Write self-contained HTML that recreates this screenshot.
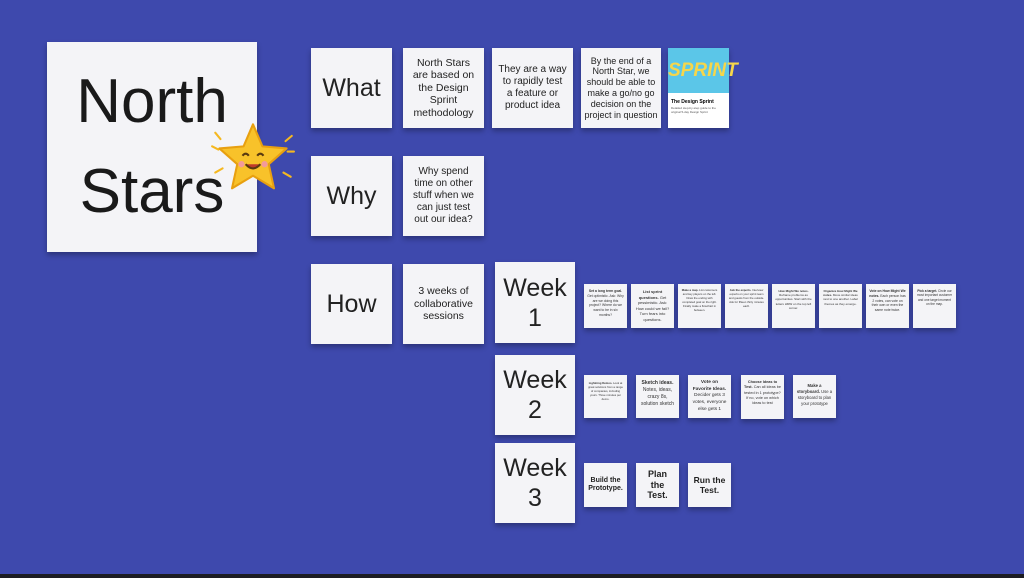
<!DOCTYPE html>
<html><head><meta charset="utf-8"><style>
*{margin:0;padding:0;box-sizing:border-box}
body{width:1024px;height:578px;background:#3e49ad;position:relative;overflow:hidden;font-family:"Liberation Sans",sans-serif}
.n{position:absolute;background:#f4f4f7;box-shadow:0 3px 5px rgba(0,0,0,.3);display:flex;align-items:center;justify-content:center;text-align:center;color:#222;line-height:1.2}
.s{display:block;font-size:3.4px;line-height:1.4;padding:5px 3px;color:#333}
.bar{position:absolute;left:0;right:0;bottom:0;height:4px;background:#1c1c22}
</style></head><body>
<div class="n" style="left:47px;top:42px;width:210px;height:210px;font-size:62px;line-height:1.45;color:#1a1a1a">North<br>Stars</div>
<svg style="position:absolute;left:210px;top:118px" width="86" height="84" viewBox="0 0 82 80">
<g stroke="#f5b820" stroke-width="2" stroke-linecap="round"><line x1="8" y1="30" x2="2" y2="27"/><line x1="10" y1="20" x2="5" y2="14"/><line x1="72" y1="22" x2="78" y2="17"/><line x1="74" y1="32" x2="80" y2="32"/><line x1="12" y1="48" x2="5" y2="52"/><line x1="70" y1="52" x2="77" y2="56"/></g>
<path d="M41 6 L50 27 L73 29 L56 44 L61 67 L41 55 L21 67 L26 44 L9 29 L32 27 Z" fill="#f8c22a" stroke="#e8a010" stroke-width="2" stroke-linejoin="round"/>
<path d="M31 36 q3 -4 6 0 M45 36 q3 -4 6 0" stroke="#5a3a10" stroke-width="2" fill="none"/>
<path d="M34 44 q7 8 14 0" stroke="#5a3a10" stroke-width="2" fill="#c0392b"/>
<circle cx="30" cy="44" r="3" fill="#f39a9a"/><circle cx="52" cy="44" r="3" fill="#f39a9a"/>
</svg>
<div class="n" style="left:311px;top:48px;width:81px;height:80px;font-size:25px">What</div>
<div class="n" style="left:403px;top:48px;width:81px;height:80px;font-size:10.5px">North Stars<br>are based on<br>the Design<br>Sprint<br>methodology</div>
<div class="n" style="left:492px;top:48px;width:81px;height:80px;font-size:10px">They are a way<br>to rapidly test<br>a feature or<br>product idea</div>
<div class="n" style="left:581px;top:48px;width:80px;height:80px;font-size:9px">By the end of a<br>North Star, we<br>should be able to<br>make a go/no go<br>decision on the<br>project in question</div>
<div style="position:absolute;left:668px;top:48px;width:61px;height:80px;background:#fff;box-shadow:0 3px 5px rgba(0,0,0,.3)">
<div style="height:45px;background:#5bc6e8;color:#f6d64a;font-weight:bold;font-size:19px;text-align:center;line-height:45px;font-style:italic">SPRINT</div>
<div style="font-size:5px;font-weight:bold;padding:6px 3px 1px">The Design Sprint</div>
<div style="font-size:3px;padding:0 3px;color:#555">Detailed step-by-step guide to the original 5-day Design Sprint</div></div>
<div class="n" style="left:311px;top:156px;width:81px;height:80px;font-size:25px">Why</div>
<div class="n" style="left:403px;top:156px;width:81px;height:80px;font-size:10px">Why spend<br>time on other<br>stuff when we<br>can just test<br>out our idea?</div>
<div class="n" style="left:311px;top:264px;width:81px;height:80px;font-size:25px">How</div>
<div class="n" style="left:403px;top:264px;width:81px;height:80px;font-size:10.5px">3 weeks of<br>collaborative<br>sessions</div>
<div class="n" style="left:495px;top:262px;width:80px;height:81px;font-size:25px">Week<br>1</div>
<div class="n" style="left:495px;top:355px;width:80px;height:80px;font-size:25px">Week<br>2</div>
<div class="n" style="left:495px;top:443px;width:80px;height:80px;font-size:25px">Week<br>3</div>
<div class="n s" style="left:584px;top:284px;width:43px;height:44px"><b>Set a long term goal.</b> Get optimistic. Ask: Why are we doing this project? Where do we want to be in six months?</div>
<div class="n s" style="left:631px;top:284px;width:43px;height:44px;font-size:4px"><b>List sprint questions.</b> Get pessimistic. Ask: How could we fail? Turn fears into questions.</div>
<div class="n s" style="left:678px;top:284px;width:43px;height:44px;font-size:2.8px"><b>Make a map.</b> List customers and key players on the left. Draw the ending with completed goal on the right. Finally make a flowchart in between.</div>
<div class="n s" style="left:725px;top:284px;width:43px;height:44px;font-size:2.8px"><b>Ask the experts.</b> Interview experts on your sprint team and guests from the outside. Ask for fifteen thirty minutes each.</div>
<div class="n s" style="left:772px;top:284px;width:43px;height:44px;font-size:3px"><b>How Might We notes.</b> Reframe problems as opportunities. Start with the letters HMW on the top left corner.</div>
<div class="n s" style="left:819px;top:284px;width:43px;height:44px;font-size:3px"><b>Organize How Might We notes.</b> Move similar ideas next to one another. Label themes as they emerge.</div>
<div class="n s" style="left:866px;top:284px;width:43px;height:44px;font-size:3.4px"><b>Vote on How Might We notes.</b> Each person has 2 votes, can vote on their own or even the same note twice.</div>
<div class="n s" style="left:913px;top:284px;width:43px;height:44px;font-size:3.2px"><b>Pick a target.</b> Circle our most important customer and one target moment on the map.</div>
<div class="n s" style="left:584px;top:375px;width:43px;height:43px;font-size:2.8px;padding-top:7px"><b>Lightning Demos.</b> Look at great solutions from a range of companies, including yours. Three minutes per demo.</div>
<div class="n s" style="left:636px;top:375px;width:43px;height:43px;font-size:5px"><b>Sketch ideas.</b> Notes, ideas, crazy 8s, solution sketch</div>
<div class="n s" style="left:688px;top:375px;width:43px;height:43px;font-size:4.8px"><b>Vote on Favorite Ideas.</b> Decider gets 3 votes, everyone else gets 1</div>
<div class="n s" style="left:741px;top:375px;width:43px;height:44px;font-size:3.8px"><b>Choose Ideas to Test.</b> Can all ideas be tested in 1 prototype? If no, vote on which ideas to test</div>
<div class="n s" style="left:793px;top:375px;width:43px;height:43px;font-size:4.2px;padding-top:8px"><b>Make a storyboard.</b> Use a storyboard to plan your prototype</div>
<div class="n" style="left:584px;top:463px;width:43px;height:44px;font-size:7px;font-weight:bold">Build the Prototype.</div>
<div class="n" style="left:636px;top:463px;width:43px;height:44px;font-size:9px;font-weight:bold">Plan<br>the<br>Test.</div>
<div class="n" style="left:688px;top:463px;width:43px;height:44px;font-size:8.5px;font-weight:bold">Run the<br>Test.</div>
<div class="bar"></div>
</body></html>
